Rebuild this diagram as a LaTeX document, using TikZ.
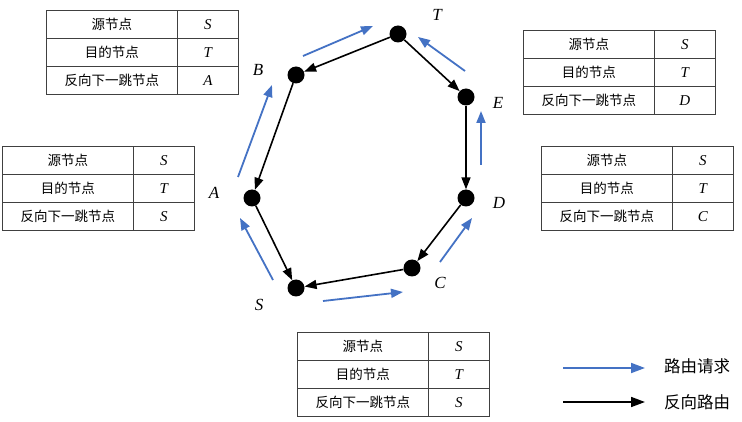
\documentclass[tikz,border=0pt]{standalone}
\usepackage{fontspec}
\setmainfont{Liberation Serif}
\newfontfamily\cjk{Noto Sans CJK SC}
\usetikzlibrary{arrows.meta,positioning}
\definecolor{reqblue}{RGB}{68,114,196}

\tikzset{
  hop/.style={circle, fill=black, inner sep=0pt, minimum size=17pt},
  hoplabel/.style={font=\fontsize{17}{20}\selectfont\itshape},
  revroute/.style={->, >={Triangle[length=12pt,width=9pt]}, line width=1.6pt},
  reqroute/.style={->, >={Triangle[length=12pt,width=9pt]}, reqblue, line width=1.8pt},
  cellL/.style={draw=black!75, line width=0.8pt, minimum width=131pt, minimum height=28pt,
    inner sep=0pt, anchor=north west, font=\cjk\fontsize{13.5}{16}\selectfont},
  cellR/.style={draw=black!75, line width=0.8pt, minimum width=61pt, minimum height=28pt,
    inner sep=0pt, anchor=north west, font=\fontsize{15}{18}\selectfont\itshape},
  legendtext/.style={font=\cjk\fontsize{16.5}{20}\selectfont}
}

% name, x, y (top left corner), next hop
\newcommand{\hoptable}[4]{%
  \node[cellL] (#1-src) at (#2,#3) {源节点};
  \node[cellR] (#1-srcv) at (#2+131,#3) {S};
  \node[cellL] (#1-dst) at (#2,#3+28) {目的节点};
  \node[cellR] (#1-dstv) at (#2+131,#3+28) {T};
  \node[cellL] (#1-nxt) at (#2,#3+56) {反向下一跳节点};
  \node[cellR] (#1-nxtv) at (#2+131,#3+56) {#4};
}

\begin{document}
\begin{tikzpicture}[x=1pt, y=-1pt]
  \useasboundingbox (0,0) rectangle (742,422);

  % nodes of the route
  \node[hop] (T) at (398,34) {};
  \node[hop] (B) at (296,75) {};
  \node[hop] (E) at (466,97) {};
  \node[hop] (A) at (252,198) {};
  \node[hop] (D) at (466,198) {};
  \node[hop] (C) at (412,268) {};
  \node[hop] (S) at (296,288) {};

  \node[hoplabel] (Tl) at (437,15) {T};
  \node[hoplabel] (Bl) at (258,70) {B};
  \node[hoplabel] (El) at (498,103) {E};
  \node[hoplabel] (Al) at (214,193) {A};
  \node[hoplabel] (Dl) at (499,203) {D};
  \node[hoplabel] (Cl) at (440,283) {C};
  \node[hoplabel] (Sl) at (259,305) {S};

  % reverse route
  \draw[revroute] (T) -- (B);
  \draw[revroute] (T) -- (E);
  \draw[revroute] (B) -- (A);
  \draw[revroute] (E) -- (D);
  \draw[revroute] (A) -- (S);
  \draw[revroute] (D) -- (C);
  \draw[revroute] (C) -- (S);

  % route request
  \coordinate (sa1) at (273,280); \coordinate (sa2) at (240,218);
  \coordinate (ab1) at (238,177); \coordinate (ab2) at (272,85);
  \coordinate (bt1) at (303,56);  \coordinate (bt2) at (373,26);
  \coordinate (sc1) at (323,301); \coordinate (sc2) at (403,292);
  \coordinate (cd1) at (440,262); \coordinate (cd2) at (472,218);
  \coordinate (de1) at (481,165); \coordinate (de2) at (481,111);
  \coordinate (et1) at (465,71);  \coordinate (et2) at (418,37);
  \draw[reqroute] (sa1) -- (sa2);
  \draw[reqroute] (ab1) -- (ab2);
  \draw[reqroute] (bt1) -- (bt2);
  \draw[reqroute] (sc1) -- (sc2);
  \draw[reqroute] (cd1) -- (cd2);
  \draw[reqroute] (de1) -- (de2);
  \draw[reqroute] (et1) -- (et2);

  % tables
  \hoptable{tb}{46}{10}{A}
  \hoptable{te}{523}{30}{D}
  \hoptable{ta}{2}{146}{S}
  \hoptable{td}{541}{146}{C}
  \hoptable{ts}{297}{332}{S}

  % legend
  \coordinate (lg1a) at (563,368); \coordinate (lg1b) at (645,368);
  \coordinate (lg2a) at (563,402); \coordinate (lg2b) at (645,402);
  \draw[reqroute, >={Triangle[length=14pt,width=10pt]}] (lg1a) -- (lg1b);
  \draw[revroute, >={Triangle[length=14pt,width=10pt]}] (lg2a) -- (lg2b);
  \node[legendtext] (lgreq) at (697,366) {路由请求};
  \node[legendtext] (lgrev) at (697,402) {反向路由};
\end{tikzpicture}
\end{document}
